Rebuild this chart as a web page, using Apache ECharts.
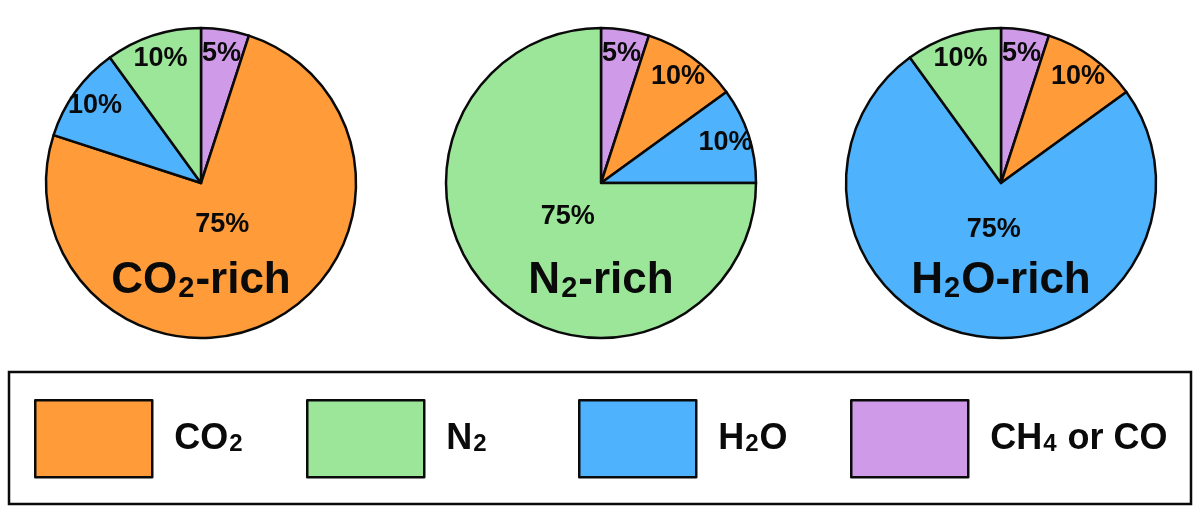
<!DOCTYPE html>
<html>
<head>
<meta charset="utf-8">
<style>
  html, body { margin: 0; padding: 0; background: #fff; }
  #main { width: 1200px; height: 521px; }
</style>
<script src="https://cdn.jsdelivr.net/npm/echarts@6/dist/echarts.min.js"></script>
</head>
<body>
<div id="main"></div>
<script>
// slice order, clockwise from 12 o'clock
const gases = ['CH4 or CO', 'CO2', 'H2O', 'N2'];
const co2Rich = [5, 75, 10, 10];
const n2Rich = [5, 10, 10, 75];
const h2oRich = [5, 10, 75, 10];
const legendOrder = ['CO2', 'N2', 'H2O', 'CH4 or CO'];
const pieNames = ['{a|CO}{s|2}{a|-rich}', '{a|N}{s|2}{a|-rich}', '{a|H}{s|2}{a|O-rich}'];
const legendNames = {
  'CO2': '{a|CO}{s|2}',
  'N2': '{a|N}{s|2}',
  'H2O': '{a|H}{s|2}{a|O}',
  'CH4 or CO': '{a|CH}{s|4}{a| or CO}'
};
const gasColors = {
  'CH4 or CO': '#cf9ae7',
  'CO2': '#ff9b38',
  'H2O': '#4eb3fc',
  'N2': '#9ce69a'
};

const FONT = '"Liberation Sans", Arial, sans-serif';
const pies = [co2Rich, n2Rich, h2oRich];
const centersX = [201, 601, 1001];
const centerY = 183;

const chart = echarts.init(document.getElementById('main'));

const series = [];
pies.forEach((vals, i) => {
  const center = [centersX[i], centerY];
  // slices
  series.push({
    type: 'pie',
    center: center,
    radius: 155,
    silent: true,
    label: { show: false },
    labelLine: { show: false },
    itemStyle: { borderColor: '#0a0a0a', borderWidth: 2.5 },
    data: gases.map((g, k) => ({ name: g, value: vals[k], itemStyle: { color: gasColors[g] } }))
  });
  // small-slice labels near the rim
  series.push({
    type: 'pie',
    center: center,
    radius: [100, 156],
    silent: true,
    z: 3,
    itemStyle: { color: 'rgba(0,0,0,0)', borderWidth: 0 },
    label: {
      position: 'inside', color: '#0a0a0a', fontSize: 27, fontWeight: 'bold',
      fontFamily: FONT, textBorderWidth: 0, formatter: '{c}%'
    },
    data: gases.map((g, k) => ({ name: g, value: vals[k], label: { show: vals[k] < 50 } }))
  });
  // big-slice label near the centre
  series.push({
    type: 'pie',
    center: center,
    radius: [0, 88],
    silent: true,
    z: 3,
    itemStyle: { color: 'rgba(0,0,0,0)', borderWidth: 0 },
    label: {
      position: 'inside', color: '#0a0a0a', fontSize: 27, fontWeight: 'bold',
      fontFamily: FONT, textBorderWidth: 0, formatter: '{c}%'
    },
    data: gases.map((g, k) => ({ name: g, value: vals[k], label: { show: vals[k] >= 50 } }))
  });
});

const legendLefts = [34, 306, 578, 850];
const legends = legendOrder.map((g, i) => ({
  left: legendLefts[i],
  top: 399,
  padding: 0,
  icon: 'rect',
  itemWidth: 117,
  itemHeight: 77,
  selectedMode: false,
  itemStyle: { borderColor: '#0a0a0a', borderWidth: 2.5 },
  data: [{ name: g, itemStyle: { color: gasColors[g] } }],
  formatter: name => legendNames[name],
  textStyle: {
    padding: [0, 0, 0, 17],
    color: '#0a0a0a',
    rich: {
      a: { fontSize: 36, fontWeight: 'bold', fontFamily: FONT, color: '#0a0a0a' },
      s: { fontSize: 24, fontWeight: 'bold', fontFamily: FONT, color: '#0a0a0a', verticalAlign: 'bottom', padding: [0, 1, 0, 1] }
    }
  }
}));

const titleTexts = pieNames.map((t, i) => ({
  type: 'text',
  x: centersX[i],
  y: 281,
  z: 10,
  silent: true,
  style: {
    text: t,
    align: 'center',
    verticalAlign: 'middle',
    fill: '#0a0a0a',
    rich: {
      a: { fontSize: 44, fontWeight: 'bold', fontFamily: FONT, fill: '#0a0a0a' },
      s: { fontSize: 29, fontWeight: 'bold', fontFamily: FONT, fill: '#0a0a0a', verticalAlign: 'bottom', padding: [0, 1, 0, 1] }
    }
  }
}));

chart.setOption({
  backgroundColor: '#fff',
  animation: false,
  legend: legends,
  graphic: [
    {
      type: 'rect',
      z: 0,
      silent: true,
      shape: { x: 9, y: 372, width: 1182, height: 132 },
      style: { fill: 'none', stroke: '#0a0a0a', lineWidth: 2.5 }
    }
  ].concat(titleTexts),
  series: series
});
</script>
</body>
</html>
